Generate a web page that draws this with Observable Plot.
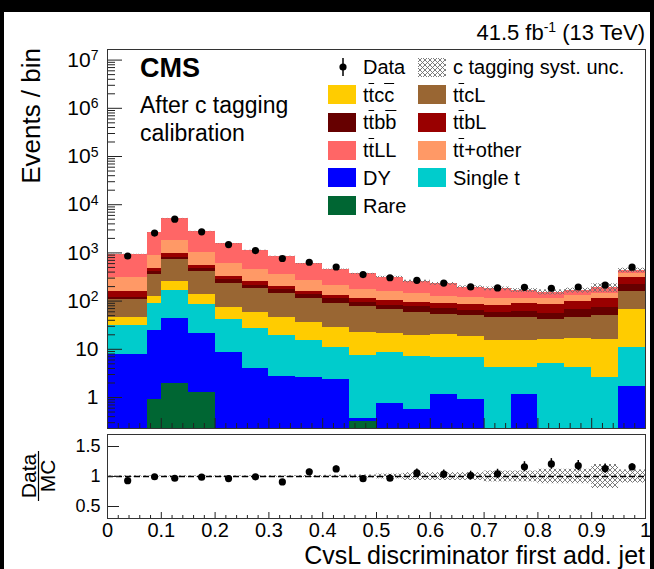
<!DOCTYPE html>
<html>
<head>
<meta charset="utf-8">
<script src="https://cdn.jsdelivr.net/npm/d3@7"></script>
<script src="https://cdn.jsdelivr.net/npm/@observablehq/plot@0.6"></script>
<style>
  html, body { margin: 0; padding: 0; background: #000; }
  #page { position: relative; width: 654px; height: 569px; background: #000; overflow: hidden;
          font-family: "Liberation Sans", Arial, Helvetica, sans-serif; color: #000; }
  #sheet { position: absolute; left: 4px; top: 12px; width: 646px; height: 557px; background: #fff; }
  .panel { position: absolute; left: 0; }
  #overlay { position: absolute; left: 0; top: 0; pointer-events: none; }
  .leg { position: absolute; white-space: nowrap; font-size: 20px; line-height: 20px; }
  .box { position: absolute; width: 28px; height: 19px; }
  .ob { text-decoration: overline; text-decoration-thickness: 1px; }
</style>
</head>
<body>
<div id="page">
  <div id="sheet"></div>
</div>
<script>
// ---- binning of the CvsL discriminator ----
const binEdges = [0, 0.075, 0.1, 0.15, 0.2, 0.25, 0.3, 0.35, 0.4, 0.45, 0.5,
                  0.55, 0.6, 0.65, 0.7, 0.75, 0.8, 0.85, 0.9, 0.95, 1.0];

// ---- simulated event yields per bin (stacked bottom to top) ----
const rare    = [0, 0.9, 1.95, 1.27, 0, 0, 0, 0, 0, 0.32, 0, 0, 0, 0, 0, 0, 0, 0, 0, 0];
const dy      = [7.7, 23.6, 41, 20.3, 8.5, 4.05, 2.77, 2.64, 2.33, 0.04, 0.74, 0.555, 1.14, 0.9, 0, 1.15, 0, 0, 0, 1.69];
const singleT = [23.5, 64.5, 123, 62.4, 33, 23.3, 16.5, 12.6, 8.8, 7.08, 7.72, 6.64, 5.72, 5.76, 4.25, 3.1, 5.15, 4.25, 2.64, 9.0];
const ttcc    = [13.9, 37, 89, 53, 33.2, 31.5, 25.8, 21.3, 17.7, 15.2, 12.4, 12.1, 13.0, 11.7, 10.95, 10.95, 10.55, 12.25, 13.36, 55.3];
const ttcL    = [62.9, 230, 464, 274, 160, 121, 101, 76.5, 61.6, 54.7, 46.1, 39.6, 32.8, 31.9, 31.1, 31.1, 25.2, 28.6, 34.3, 94];
const ttbb    = [11, 49, 103, 64, 46, 36, 28, 24, 20.6, 16.2, 16, 16.6, 17.5, 13.5, 12.6, 14.5, 15.2, 21.9, 24.4, 61];
const ttbL    = [39, 63, 136, 73, 43, 39, 30, 23, 22, 17.5, 20, 19.4, 17.7, 21.2, 22.1, 27.1, 28.9, 31.1, 40.3, 92];
const ttOther = [146, 415, 850, 457, 270, 191, 147, 108, 78, 66, 55, 47.1, 38.1, 35, 30, 27.1, 26, 30.9, 31, 66];
const ttLL    = [622, 1707, 3342, 1765, 951, 676, 491, 326, 242, 191, 156, 113, 102, 74, 69, 51, 42, 37, 44, 56];

// ---- observed events per bin ----
const dataCounts = [862, 2580, 5000, 2740, 1490, 1116, 766, 640, 510, 355, 305, 270, 237, 197, 188, 193, 185, 196, 215, 505];

// ---- relative c tagging systematic uncertainty per bin ----
const systRel = [0.01, 0.01, 0.01, 0.01, 0.01, 0.01, 0.012, 0.015, 0.02, 0.025, 0.04, 0.065, 0.065, 0.065, 0.09, 0.09, 0.12, 0.12, 0.2, 0.11];

// ---- axis ticks ----
const yMainTicks = [1, 10, 1e2, 1e3, 1e4, 1e5, 1e6, 1e7];
const ratioTicks = [0.5, 1, 1.5];
const xTickLabels = [0, 0.1, 0.2, 0.3, 0.4, 0.5, 0.6, 0.7, 0.8, 0.9, 1];

const processes = [
  {name: "Rare",     color: "#006633", values: rare},
  {name: "DY",       color: "#0000ff", values: dy},
  {name: "Single t", color: "#00cccc", values: singleT},
  {name: "ttcc",     color: "#ffcc00", values: ttcc},
  {name: "ttcL",     color: "#996633", values: ttcL},
  {name: "ttbb",     color: "#660000", values: ttbb},
  {name: "ttbL",     color: "#990000", values: ttbL},
  {name: "ttother",  color: "#ff9966", values: ttOther},
  {name: "ttLL",     color: "#ff6666", values: ttLL}
];

const nBins = binEdges.length - 1;
const FLOOR = 0.05; // lower end of the bottom-most layer, below the visible range
const centers = d3.range(nBins).map(i => (binEdges[i] + binEdges[i + 1]) / 2);

// cumulative stack layers
const layers = processes.map(() => []);
const totals = [];
for (let i = 0; i < nBins; i++) {
  let cum = 0;
  processes.forEach((p, j) => {
    const v = p.values[i];
    if (v > 0) layers[j].push({x1: binEdges[i], x2: binEdges[i + 1], y1: cum > 0 ? cum : FLOOR, y2: cum + v});
    cum += v;
  });
  totals.push(cum);
}

const bins = d3.range(nBins).map(i => {
  const n = dataCounts[i], mc = totals[i], u = systRel[i];
  return {
    x1: binEdges[i], x2: binEdges[i + 1], x: centers[i],
    n, lo: n - Math.sqrt(n), hi: n + Math.sqrt(n),
    mcLo: mc * (1 - u), mcHi: mc * (1 + u),
    r: n / mc, rLo: (n - Math.sqrt(n)) / mc, rHi: (n + Math.sqrt(n)) / mc,
    uLo: 1 - u, uHi: 1 + u
  };
});

const W = 654;
const FL = 107, FR = 645;           // frame left / right in px
const FW = FR - FL;
const font = "Liberation Sans, Arial, Helvetica, sans-serif";

function hatchDefs(id) {
  return () => {
    const defs = d3.create("svg:defs");
    const pat = defs.append("pattern").attr("id", id).attr("patternUnits", "userSpaceOnUse")
      .attr("width", 5).attr("height", 5);
    pat.append("path").attr("d", "M0,0L5,5M5,0L0,5M-1,4L1,6M4,-1L6,1M4,6L6,4M-1,1L1,-1")
      .attr("stroke", "#6e6e6e").attr("stroke-width", 0.9).attr("fill", "none");
    return defs.node();
  };
}

// ---------- upper panel ----------
const mainH = 430, mTop = 49, mBottom = 2;
const mainPanelH = mainH - mTop - mBottom;
const minorY = [];
for (let k = -1; k <= 7; k++) for (let m = 2; m <= 9; m++) {
  const v = m * Math.pow(10, k);
  if (v > 0.2275 && v < 1.66e7) minorY.push(v);
}
const xMajor = d3.range(0, 11).map(i => i / 10);
const xMinor = d3.range(0, 51).map(i => i / 50).filter((d, i) => i % 5 !== 0);

const main = Plot.plot({
  width: W, height: mainH,
  marginLeft: FL, marginRight: W - FR, marginTop: mTop, marginBottom: mBottom,
  x: {domain: [0, 1], axis: null},
  y: {type: "log", domain: [0.2275, 1.66e7], axis: null},
  style: {background: "transparent", fontFamily: font, overflow: "visible"},
  marks: [
    hatchDefs("xhatchMain"),
    ...processes.map((p, j) => Plot.rect(layers[j], {
      x1: "x1", x2: "x2", y1: "y1", y2: "y2", fill: p.color, clip: true, shapeRendering: "crispEdges"
    })),
    Plot.rect(bins, {x1: "x1", x2: "x2", y1: "mcLo", y2: "mcHi", fill: "url(#xhatchMain)"}),
    // inward ticks
    Plot.ruleY(yMainTicks, {stroke: "#222", insetRight: FW - 15}),
    Plot.ruleY(minorY, {stroke: "#222", insetRight: FW - 8}),
    Plot.ruleX(xMajor, {stroke: "#222", insetTop: mainPanelH - 10}),
    Plot.ruleX(xMinor, {stroke: "#222", insetTop: mainPanelH - 5}),
    // data
    Plot.ruleX(bins, {x: "x", y1: "lo", y2: "hi", stroke: "#000", strokeWidth: 1.5}),
    Plot.dot(bins, {x: "x", y: "n", r: 3.6, fill: "#000"}),
    Plot.axisY({
      ticks: yMainTicks, anchor: "left", tickSize: 0, tickPadding: 9, fontSize: 21, fill: "#000",
      tickFormat: d => { const k = Math.round(Math.log10(d)); return k === 0 ? "1" : k === 1 ? "10" : "10^" + k; }
    }),
    Plot.frame({stroke: "#333"})
  ]
});

// superscript exponents on the log axis labels
d3.select(main).selectAll('g[aria-label="y-axis tick label"] text').each(function () {
  const s = this.textContent;
  if (s.startsWith("10^")) {
    this.textContent = "10";
    d3.select(this).append("tspan").attr("dy", "-0.48em").attr("font-size", "14px").text(s.slice(3));
  }
});

// ---------- ratio panel ----------
const rH = 139, rTop = 4, rBottom = 51;
const rPanelH = rH - rTop - rBottom;
const ratio = Plot.plot({
  width: W, height: rH,
  marginLeft: FL, marginRight: W - FR, marginTop: rTop, marginBottom: rBottom,
  x: {domain: [0, 1], axis: null},
  y: {domain: [0.3, 1.7], axis: null},
  style: {background: "transparent", fontFamily: font, overflow: "visible"},
  marks: [
    hatchDefs("xhatchRatio"),
    Plot.rect(bins, {x1: "x1", x2: "x2", y1: "uLo", y2: "uHi", fill: "url(#xhatchRatio)"}),
    Plot.ruleY([1], {stroke: "#000", strokeWidth: 1.4, strokeDasharray: "6,3"}),
    Plot.ruleY(ratioTicks, {stroke: "#222", insetRight: FW - 12}),
    Plot.ruleX(xMajor, {stroke: "#222", insetTop: rPanelH - 6}),
    Plot.ruleX(xMinor, {stroke: "#222", insetTop: rPanelH - 3}),
    Plot.ruleX(bins, {x: "x", y1: "rLo", y2: "rHi", stroke: "#000", strokeWidth: 1.5}),
    Plot.dot(bins, {x: "x", y: "r", r: 3.6, fill: "#000"}),
    Plot.axisY({ticks: ratioTicks, anchor: "left", tickSize: 0, tickPadding: 7, fontSize: 18, fill: "#000",
      tickFormat: d => String(d)}),
    Plot.axisX({ticks: xTickLabels, anchor: "bottom", tickSize: 0, tickPadding: 4, fontSize: 20, fill: "#000",
      tickFormat: d => String(d)}),
    Plot.frame({stroke: "#333"})
  ]
});

const page = document.getElementById("page");
main.classList.add("panel"); main.style.top = "0px";
ratio.classList.add("panel"); ratio.style.top = mainH + "px";
page.appendChild(main);
page.appendChild(ratio);

// ---------- titles and annotations ----------
const ov = d3.select(page).append("svg").attr("id", "overlay")
  .attr("width", W).attr("height", 569).attr("font-family", font);

const lumi = ov.append("text").attr("x", FR).attr("y", 40).attr("text-anchor", "end").attr("font-size", 22);
lumi.append("tspan").text("41.5 fb");
lumi.append("tspan").attr("dy", -8).attr("font-size", 14).text("-1");
lumi.append("tspan").attr("dy", 8).text(" (13 TeV)");

ov.append("text").attr("x", 140).attr("y", 77).attr("font-size", 27).attr("font-weight", "bold").text("CMS");
ov.append("text").attr("x", 140).attr("y", 113).attr("font-size", 23).text("After c tagging");
ov.append("text").attr("x", 140).attr("y", 141).attr("font-size", 23).text("calibration");

ov.append("text").attr("transform", "translate(40,48) rotate(-90)").attr("text-anchor", "end")
  .attr("font-size", 26).text("Events / bin");

const frac = ov.append("g").attr("transform", "translate(38.5,476) rotate(-90)").attr("font-size", 21);
frac.append("text").attr("x", 0).attr("y", -2.5).attr("text-anchor", "middle").text("Data");
frac.append("line").attr("x1", -25).attr("x2", 25).attr("y1", 0).attr("y2", 0).attr("stroke", "#000").attr("stroke-width", 1.2);
frac.append("text").attr("x", 0).attr("y", 16.5).attr("text-anchor", "middle").text("MC");

ov.append("text").attr("x", FR).attr("y", 564).attr("text-anchor", "end").attr("font-size", 25)
  .text("CvsL discriminator first add. jet");

// ---------- legend ----------
const colorOf = Object.fromEntries(processes.map(p => [p.name, p.color]));
const legendRows = [
  [["ttcc", 't<span class="ob">t</span>c<span class="ob">c</span>'], ["ttcL", 't<span class="ob">t</span>cL']],
  [["ttbb", 't<span class="ob">t</span>b<span class="ob">b</span>'], ["ttbL", 't<span class="ob">t</span>bL']],
  [["ttLL", 't<span class="ob">t</span>LL'], ["ttother", 't<span class="ob">t</span>+other']],
  [["DY", "DY"], ["Single t", "Single t"]],
  [["Rare", "Rare"]]
];
const rowY = [94.6, 122.3, 150, 177.8, 205.5];
const colBox = [328, 418], colText = [363, 453];
legendRows.forEach((row, r) => {
  row.forEach(([key, html], c) => {
    const box = document.createElement("div");
    box.className = "box";
    box.style.left = colBox[c] + "px"; box.style.top = (rowY[r] - 9.5) + "px";
    box.style.background = colorOf[key];
    page.appendChild(box);
    const t = document.createElement("div");
    t.className = "leg";
    t.style.left = colText[c] + "px"; t.style.top = (rowY[r] - 10) + "px";
    t.innerHTML = html;
    page.appendChild(t);
  });
});
// data entry and uncertainty entry
const lg = ov.append("g");
lg.append("line").attr("x1", 343).attr("x2", 343).attr("y1", 58).attr("y2", 76).attr("stroke", "#000").attr("stroke-width", 1.5);
lg.append("circle").attr("cx", 343).attr("cy", 67).attr("r", 3.6).attr("fill", "#000");
const defs = lg.append("defs");
const pat = defs.append("pattern").attr("id", "xhatchLeg").attr("patternUnits", "userSpaceOnUse").attr("width", 5).attr("height", 5);
pat.append("path").attr("d", "M0,0L5,5M5,0L0,5M-1,4L1,6M4,-1L6,1M4,6L6,4M-1,1L1,-1")
  .attr("stroke", "#6e6e6e").attr("stroke-width", 0.9).attr("fill", "none");
lg.append("rect").attr("x", 418).attr("y", 58).attr("width", 28).attr("height", 19).attr("fill", "url(#xhatchLeg)");
[["Data", 363], ["c tagging syst. unc.", 453]].forEach(([s, x]) => {
  const t = document.createElement("div");
  t.className = "leg"; t.style.left = x + "px"; t.style.top = (67 - 10) + "px"; t.textContent = s;
  page.appendChild(t);
});
</script>
</body>
</html>
